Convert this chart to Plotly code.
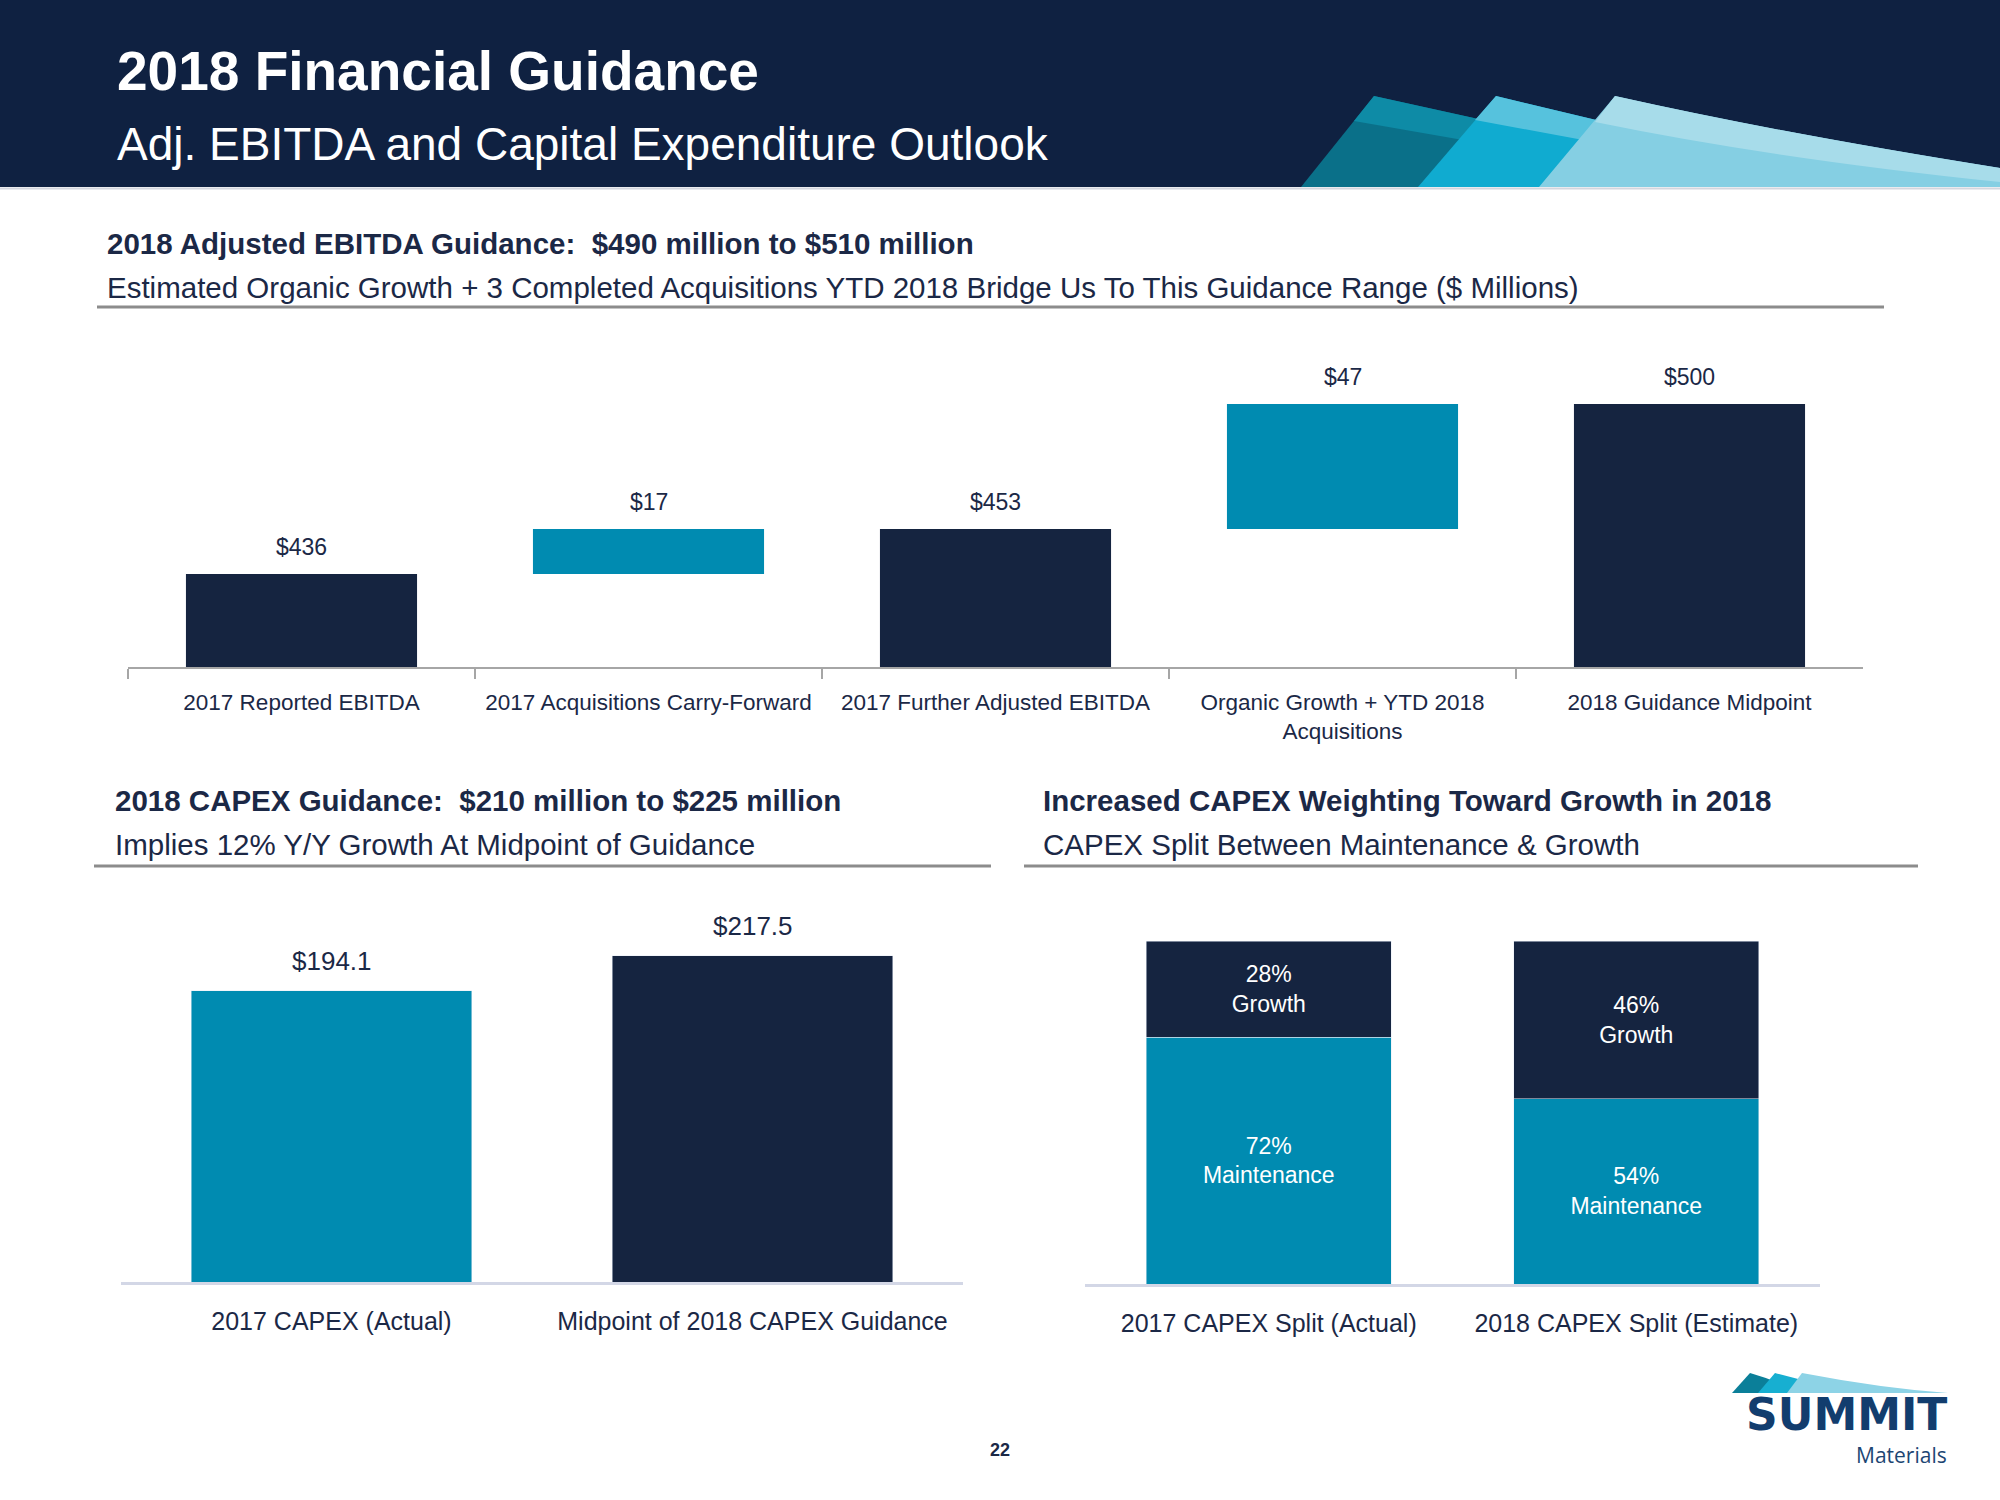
import plotly.graph_objects as go

# ---------------- data ----------------
wf_categories = ["2017 Reported EBITDA", "2017 Acquisitions Carry-Forward",
                 "2017 Further Adjusted EBITDA", "Organic Growth + YTD 2018<br>Acquisitions",
                 "2018 Guidance Midpoint"]
wf_values = [436, 17, 453, 47, 500]
wf_measures = ["absolute", "relative", "total", "relative", "total"]
wf_labels = ["$436", "$17", "$453", "$47", "$500"]

capex_categories = ["2017 CAPEX (Actual)", "Midpoint of 2018 CAPEX Guidance"]
capex_values = [194.1, 217.5]
capex_labels = ["$194.1", "$217.5"]

split_categories = ["2017 CAPEX Split (Actual)", "2018 CAPEX Split (Estimate)"]
maintenance_pct = [72, 54]
growth_pct = [28, 46]

# ---------------- style ----------------
NAVY = "#152440"
TEAL = "#008bb1"
HEADER = "#0f2141"
TXT = "#1b2846"
FONT = "Liberation Sans Narrow, Arial Narrow, Liberation Sans, Arial, sans-serif"
W, H = 2000, 1500


def px(x, y):
    return x / W, 1 - y / H


def P(x, y):
    a, b = px(x, y)
    return f"{a:.5f},{b:.5f}"


fig = go.Figure()

# Waterfall
fig.add_trace(go.Waterfall(
    x=wf_categories, y=wf_values, measure=wf_measures,
    increasing=dict(marker=dict(color=TEAL)),
    decreasing=dict(marker=dict(color=TEAL)),
    totals=dict(marker=dict(color=NAVY)),
    connector=dict(visible=False),
    xaxis="x", yaxis="y", hoverinfo="skip"))

# CAPEX bars
fig.add_trace(go.Bar(
    x=capex_categories, y=capex_values, marker=dict(color=[TEAL, NAVY]),
    xaxis="x2", yaxis="y2", hoverinfo="skip"))

# CAPEX split stacked
inner_font = dict(color="white", size=23, family=FONT)
fig.add_trace(go.Bar(
    x=split_categories, y=maintenance_pct, marker=dict(color=TEAL),
    text=[f"{v}%<br>Maintenance" for v in maintenance_pct],
    textposition="inside", insidetextanchor="middle", textangle=0,
    textfont=inner_font, xaxis="x3", yaxis="y3", hoverinfo="skip"))
fig.add_trace(go.Bar(
    x=split_categories, y=growth_pct, marker=dict(color=NAVY),
    text=[f"{v}%<br>Growth" for v in growth_pct],
    textposition="inside", insidetextanchor="middle", textangle=0,
    textfont=inner_font, xaxis="x3", yaxis="y3", hoverinfo="skip"))

annotations = []

# waterfall value labels
running = 0
for cat, v, m, lab in zip(wf_categories, wf_values, wf_measures, wf_labels):
    if m == "absolute":
        running = v
    elif m == "relative":
        running += v
    annotations.append(dict(x=cat, y=running, xref="x", yref="y", text=lab,
                            showarrow=False, yanchor="bottom", yshift=12,
                            font=dict(size=23, color=TXT, family=FONT)))
# capex value labels
for cat, v, lab in zip(capex_categories, capex_values, capex_labels):
    annotations.append(dict(x=cat, y=v, xref="x2", yref="y2", text=lab,
                            showarrow=False, yanchor="bottom", yshift=13,
                            font=dict(size=26, color=TXT, family=FONT)))


def text(x, y, s, size, color=TXT, bold=False, anchor="left", family=FONT):
    a, b = px(x, y)
    annotations.append(dict(x=a, y=b, xref="paper", yref="paper", showarrow=False,
                            xanchor=anchor, yanchor="middle",
                            text=f"<b>{s}</b>" if bold else s,
                            font=dict(size=size, color=color, family=family)))


text(115, 71, "2018 Financial Guidance", 55, "white", bold=True)
text(115, 144, "Adj. EBITDA and Capital Expenditure Outlook", 46, "white")
text(105, 243, "2018 Adjusted EBITDA Guidance:  $490 million to $510 million", 29.5, TXT, bold=True)
text(105, 287, "Estimated Organic Growth + 3 Completed Acquisitions YTD 2018 Bridge Us To This Guidance Range ($ Millions)", 29.5, TXT)
text(113, 800, "2018 CAPEX Guidance:  $210 million to $225 million", 29.5, TXT, bold=True)
text(113, 844, "Implies 12% Y/Y Growth At Midpoint of Guidance", 29.5, TXT)
text(1041, 800, "Increased CAPEX Weighting Toward Growth in 2018", 29.5, TXT, bold=True)
text(1041, 844, "CAPEX Split Between Maintenance & Growth", 29.5, TXT)
text(1000, 1450, "22", 18, TXT, bold=True, anchor="center", family="Liberation Sans, Arial, sans-serif")
text(1949, 1414, "SUMMIT", 44, "#123d6e", bold=True, anchor="right", family="DejaVu Sans, sans-serif")
text(1949, 1455, "Materials", 21, "#1d4673", anchor="right", family="Open Sans, sans-serif")

shapes = []
# header band
shapes.append(dict(type="rect", xref="paper", yref="paper", x0=0, x1=1,
                   y0=px(0, 187)[1], y1=1, fillcolor=HEADER, line=dict(width=0), layer="below"))
shapes.append(dict(type="line", xref="paper", yref="paper", x0=0, x1=1,
                   y0=px(0, 188.5)[1], y1=px(0, 188.5)[1], line=dict(color="#d3d6de", width=2)))


def path(d, col):
    shapes.append(dict(type="path", xref="paper", yref="paper", path=d,
                       fillcolor=col, line=dict(width=0)))


# header decoration: three "sails", each with a lighter band along its top edge
# dark teal
path(f"M {P(1301,187)} L {P(1374,96)} L {P(1560,137)} L {P(1560,187)} Z", "#0a7089")
path(f"M {P(1354,121)} L {P(1374,96)} L {P(1560,137)} L {P(1560,157)} Z", "#0e8ba6")
# cyan
path(f"M {P(1418,187)} L {P(1496,96)} L {P(1680,140)} L {P(1680,187)} Z", "#10abd0")
path(f"M {P(1475,120)} L {P(1496,96)} L {P(1680,140)} L {P(1680,158)} Z", "#56c2dd")
# light
path(f"M {P(1539,187)} L {P(1615,96)} Q {P(1780,133)} {P(2000,168)} L {P(2000,187)} Z", "#85cfe3")
path(f"M {P(1595,122)} L {P(1615,96)} Q {P(1780,133)} {P(2000,168)} L {P(2000,182)} "
     f"Q {P(1770,158)} {P(1595,122)} Z", "#a7dcea")

# logo decoration
for bl, pk, ctrl, end, col in [
    ((1732, 1393), (1750, 1373), (1775, 1380), (1800, 1393), "#0b7f99"),
    ((1758, 1393), (1775, 1373), (1810, 1382), (1850, 1393), "#17afd1"),
    ((1787, 1393), (1802, 1373), (1880, 1388), (1948, 1393), "#8dd3e6"),
]:
    path(f"M {P(*bl)} L {P(*pk)} Q {P(*ctrl)} {P(*end)} Z", col)

# separator lines
for x0, x1, y in [(97, 1884, 307), (94, 991, 866), (1024, 1918, 866)]:
    a0, b = px(x0, y)
    a1, _ = px(x1, y)
    shapes.append(dict(type="line", xref="paper", yref="paper", x0=a0, x1=a1, y0=b, y1=b,
                       line=dict(color="#8c8c8c", width=3)))

fig.update_layout(
    width=W, height=H, margin=dict(l=0, r=0, t=0, b=0, autoexpand=False),
    paper_bgcolor="white", plot_bgcolor="rgba(0,0,0,0)",
    showlegend=False, barmode="stack", bargap=0.334, waterfallgap=0.334,
    font=dict(family=FONT, color=TXT),
    annotations=annotations, shapes=shapes,
    xaxis=dict(domain=[128 / W, 1863 / W], anchor="y", type="category",
               showline=True, linecolor="#a6a6a6", linewidth=2,
               ticks="outside", tickson="boundaries", ticklen=10, tickcolor="#a6a6a6",
               tickwidth=2, tickfont=dict(size=22.5, color=TXT, family=FONT),
               showgrid=False, zeroline=False, tickangle=0, automargin=False,
               ticklabelstandoff=14),
    yaxis=dict(domain=[1 - 667 / H, 1 - 351 / H], range=[401, 520], visible=False,
               anchor="x", automargin=False),
    xaxis2=dict(domain=[121 / W, 963 / W], anchor="y2", type="category",
                showline=True, linecolor="#d3d7e6", linewidth=3, ticks="",
                tickfont=dict(size=25, color=TXT, family=FONT), showgrid=False,
                zeroline=False, tickangle=0, automargin=False, ticklabelstandoff=15),
    yaxis2=dict(domain=[1 - 1282 / H, 1 - 907 / H], range=[0, 250], visible=False,
                anchor="x2", automargin=False),
    xaxis3=dict(domain=[1085 / W, 1820 / W], anchor="y3", type="category",
                showline=True, linecolor="#d3d7e6", linewidth=3, ticks="",
                tickfont=dict(size=25, color=TXT, family=FONT), showgrid=False,
                zeroline=False, tickangle=0, automargin=False, ticklabelstandoff=15),
    yaxis3=dict(domain=[1 - 1284 / H, 1 - 941 / H], range=[0, 100], visible=False,
                anchor="x3", automargin=False),
)

fig.write_html("out.html", config={"displayModeBar": False},
               post_script="document.body.style.margin='0';")
